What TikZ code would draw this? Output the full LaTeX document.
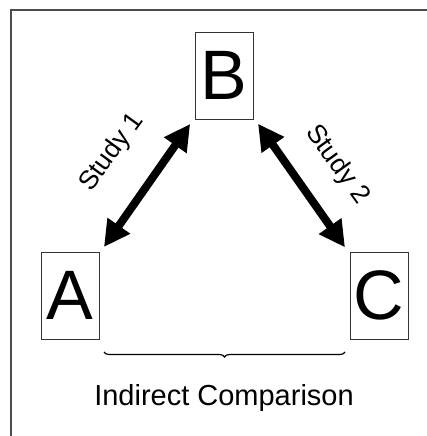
\documentclass[tikz,border=0pt]{standalone}
\usepackage{fontspec}
\setmainfont{Liberation Sans}
\usetikzlibrary{arrows.meta,decorations.pathreplacing}
\begin{document}
\begin{tikzpicture}[x=1pt,y=1pt,
  letterbox/.style={draw=black!80, line width=0.9pt, minimum width=58pt, minimum height=87pt, inner sep=0pt, outer sep=5pt, font=\fontsize{70}{70}\selectfont},
  studyarrow/.style={line width=8pt, {Triangle[length=26pt,width=26pt]}-{Triangle[length=26pt,width=26pt]}},
  studylabel/.style={font=\fontsize{26.5}{26.5}\selectfont, inner sep=0pt},
  frameline/.style={draw=black!70, line width=1.5pt}]
\useasboundingbox (0,0) rectangle (427,436);
\coordinate (f1) at (11,0);
\coordinate (f2) at (11,426);
\coordinate (f3) at (427,426);
\draw[frameline] (f1) -- (f2) -- (f3);
\node[letterbox] (B) at (224,360.5) {B};
\node[letterbox] (A) at (70,140.5) {A};
\node[letterbox] (C) at (379,140.5) {C};
\draw[studyarrow] (A) -- (B);
\draw[studyarrow] (B) -- (C);
\node[studylabel, rotate=54] (s1) at (112,283.5) {Study 1};
\node[studylabel, rotate=-54] (s2) at (337,271) {Study 2};
\coordinate (b1) at (104,84);
\coordinate (b2) at (345,84);
\draw[line width=1.2pt, decorate, decoration={brace, mirror, amplitude=5pt}] (b1) -- (b2);
\node[font=\fontsize{29}{29}\selectfont, inner sep=0pt] (ic) at (224,37.5) {Indirect Comparison};
\end{tikzpicture}
\end{document}
